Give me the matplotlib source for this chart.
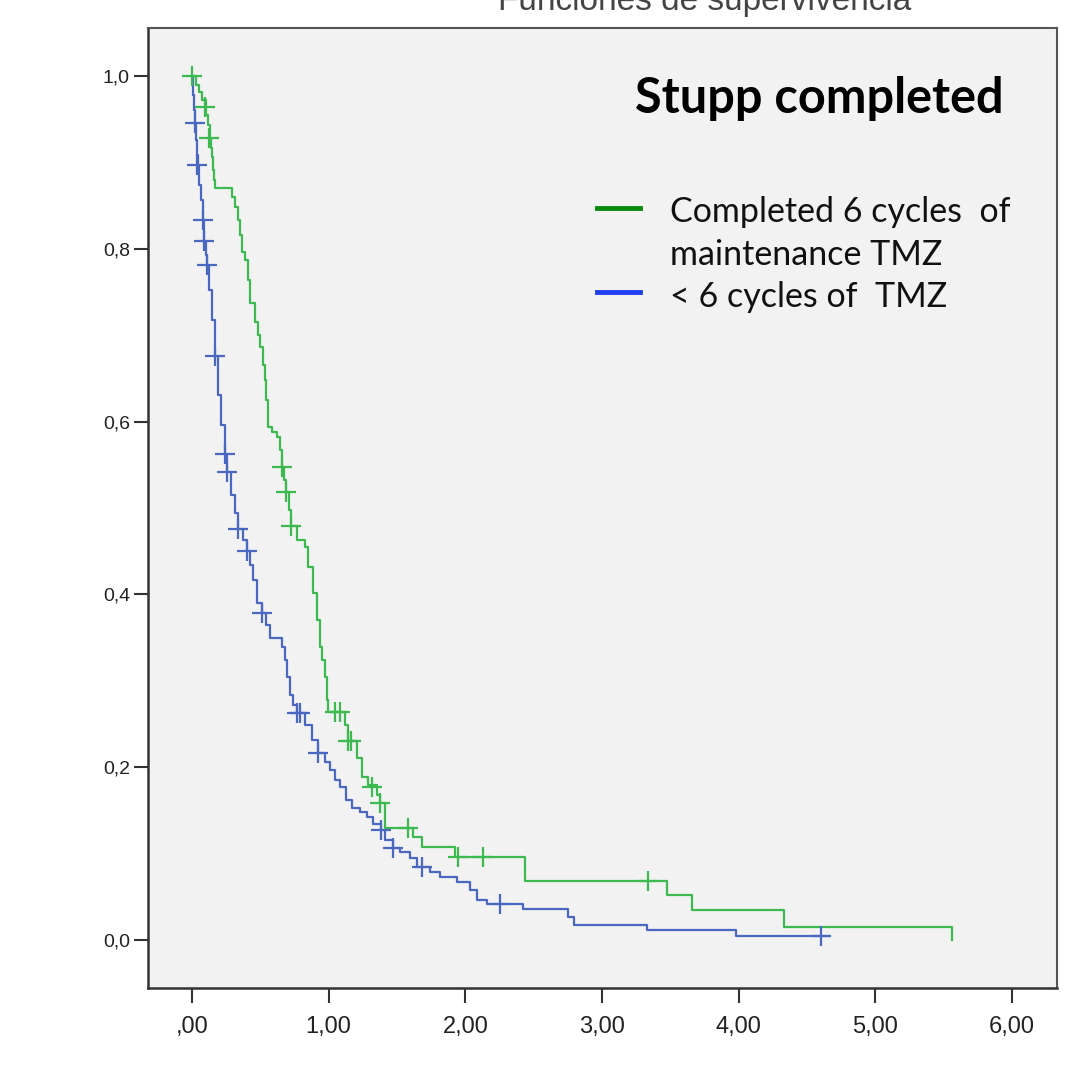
import matplotlib
matplotlib.use("Agg")
import matplotlib.pyplot as plt
from matplotlib.lines import Line2D

# ---------------- data ----------------
# Completed 6 cycles of maintenance TMZ (green): step times and survival after step
green_t = [0.000, 0.029, 0.051, 0.073, 0.102, 0.117, 0.132, 0.139, 0.146, 0.154, 0.161, 0.168,
           0.293, 0.315, 0.337, 0.351, 0.366, 0.388, 0.410, 0.424, 0.461, 0.483, 0.497, 0.519,
           0.534, 0.541, 0.556, 0.585, 0.622, 0.644, 0.658, 0.673, 0.688, 0.710, 0.724, 0.768,
           0.827, 0.849, 0.885, 0.914, 0.936, 0.951, 0.973, 0.988, 0.995, 1.119, 1.141, 1.207,
           1.244, 1.287, 1.353, 1.375, 1.412, 1.617, 1.683, 1.924, 2.436, 3.475, 3.658, 4.331,
           5.560]
green_s = [1.000, 0.990, 0.981, 0.972, 0.955, 0.943, 0.928, 0.917, 0.906, 0.891, 0.880, 0.870,
           0.860, 0.848, 0.833, 0.816, 0.796, 0.787, 0.764, 0.737, 0.715, 0.700, 0.686, 0.666,
           0.648, 0.625, 0.594, 0.588, 0.582, 0.567, 0.547, 0.532, 0.519, 0.498, 0.479, 0.463,
           0.455, 0.432, 0.402, 0.370, 0.339, 0.324, 0.304, 0.278, 0.264, 0.249, 0.230, 0.211,
           0.189, 0.179, 0.168, 0.159, 0.130, 0.119, 0.108, 0.096, 0.068, 0.052, 0.035, 0.015,
           0.000]
green_cens_t = [0.000, 0.095, 0.125, 0.658, 0.688, 0.724, 1.046, 1.083, 1.141, 1.160, 1.317,
                1.375, 1.580, 1.946, 2.129, 3.336]
green_cens_s = [1.000, 0.964, 0.928, 0.547, 0.519, 0.479, 0.264, 0.264, 0.230, 0.230, 0.177,
                0.159, 0.130, 0.096, 0.096, 0.068]

# < 6 cycles of TMZ (blue)
blue_t = [0.000, 0.007, 0.015, 0.022, 0.029, 0.037, 0.044, 0.051, 0.066, 0.080, 0.088, 0.102,
          0.110, 0.124, 0.146, 0.168, 0.190, 0.212, 0.241, 0.256, 0.285, 0.315, 0.337, 0.373,
          0.402, 0.424, 0.446, 0.475, 0.512, 0.541, 0.571, 0.658, 0.680, 0.695, 0.717, 0.739,
          0.768, 0.827, 0.878, 0.922, 0.973, 1.010, 1.046, 1.083, 1.127, 1.170, 1.229, 1.280,
          1.324, 1.383, 1.412, 1.470, 1.522, 1.595, 1.646, 1.741, 1.814, 1.939, 2.034, 2.085,
          2.158, 2.421, 2.751, 2.794, 3.328, 3.979, 4.660]
blue_s = [1.000, 0.978, 0.961, 0.946, 0.926, 0.909, 0.897, 0.874, 0.856, 0.833, 0.809, 0.793,
          0.781, 0.752, 0.718, 0.676, 0.631, 0.596, 0.562, 0.542, 0.515, 0.494, 0.476, 0.463,
          0.450, 0.434, 0.417, 0.390, 0.378, 0.365, 0.350, 0.339, 0.324, 0.304, 0.284, 0.272,
          0.263, 0.249, 0.231, 0.216, 0.206, 0.197, 0.185, 0.177, 0.162, 0.153, 0.148, 0.142,
          0.134, 0.127, 0.116, 0.106, 0.102, 0.095, 0.084, 0.079, 0.073, 0.067, 0.058, 0.046,
          0.042, 0.036, 0.027, 0.017, 0.012, 0.005, 0.005]
blue_cens_t = [0.022, 0.037, 0.080, 0.088, 0.110, 0.168, 0.241, 0.256, 0.337, 0.402, 0.512,
               0.768, 0.790, 0.922, 1.383, 1.470, 1.683, 2.253, 4.601]
blue_cens_s = [0.946, 0.897, 0.833, 0.809, 0.781, 0.676, 0.562, 0.542, 0.476, 0.450, 0.378,
               0.263, 0.263, 0.216, 0.127, 0.106, 0.084, 0.042, 0.005]

x_ticks = [0, 1, 2, 3, 4, 5, 6]
x_labels = [",00", "1,00", "2,00", "3,00", "4,00", "5,00", "6,00"]
y_ticks = [0.0, 0.2, 0.4, 0.6, 0.8, 1.0]
y_labels = ["0,0", "0,2", "0,4", "0,6", "0,8", "1,0"]

title = "Funciones de supervivencia"
annot = "Stupp completed"
legend_green = ["Completed 6 cycles  of", "maintenance TMZ"]
legend_blue = "< 6 cycles of  TMZ"

# ---------------- styling ----------------
W, H = 1075, 1088
fig = plt.figure(figsize=(W / 100, H / 100), dpi=100)
fig.patch.set_facecolor("white")

left, right, top, bottom = 148, 1057, 28, 988
ax = fig.add_axes([left / W, 1 - bottom / H, (right - left) / W, (bottom - top) / H])
ax.set_facecolor("#f2f2f2")

GREEN = "#3dba4f"
BLUE = "#4a68c0"

ax.step(green_t, green_s, where="post", color=GREEN, lw=1.6, zorder=3)
ax.step(blue_t, blue_s, where="post", color=BLUE, lw=1.6, zorder=3)
ax.plot(green_cens_t, green_cens_s, ls="none", marker="+", ms=15, mew=1.6, color=GREEN, zorder=4)
ax.plot(blue_cens_t, blue_cens_s, ls="none", marker="+", ms=15, mew=1.6, color=BLUE, zorder=4)

x0px, x6px = 192, 1012
ppu = (x6px - x0px) / 6
ax.set_xlim((left - x0px) / ppu, (right - x0px) / ppu)
y0px, y1px = 940, 76
ppy = y0px - y1px
ax.set_ylim(-(bottom - y0px) / ppy, 1 + (y1px - top) / ppy)

ax.set_xticks(x_ticks)
ax.set_xticklabels(x_labels, family=["Liberation Sans Narrow", "Liberation Sans", "DejaVu Sans"],
                   fontsize=17, color="#222222")
ax.set_yticks(y_ticks)
ax.set_yticklabels(y_labels, family=["Liberation Sans", "DejaVu Sans"], fontsize=14, color="#222222")
ax.tick_params(axis="x", length=11, width=1.5, color="#333333", pad=9)
ax.tick_params(axis="y", length=10, width=1.5, color="#333333", pad=3)

for side in ["left", "bottom"]:
    ax.spines[side].set_color("#333333")
    ax.spines[side].set_linewidth(1.8)
for side in ["top", "right"]:
    ax.spines[side].set_color("#555555")
    ax.spines[side].set_linewidth(1.5)

# cut-off title at the very top
fig.text(705 / W, 1 - 10 / H, title, ha="center", va="baseline",
         family=["Liberation Sans", "DejaVu Sans"], fontsize=24, color="#444444")

# annotation
fig.text(635 / W, 1 - 113 / H, annot, ha="left", va="baseline",
         family=["Lato", "DejaVu Sans"], fontweight="bold", fontsize=35, color="black")

# legend (manual)
fig.add_artist(Line2D([597 / W, 640 / W], [1 - 208 / H, 1 - 208 / H], color="#0a8a0a", lw=3.5))
fig.add_artist(Line2D([597 / W, 640 / W], [1 - 292 / H, 1 - 292 / H], color="#1f3ff0", lw=3.5))
lfont = dict(family=["Lato", "DejaVu Sans"], fontsize=24.5, color="#111111", ha="left", va="center")
fig.text(670 / W, 1 - 212 / H, legend_green[0], **lfont)
fig.text(670 / W, 1 - 255 / H, legend_green[1], **lfont)
fig.text(670 / W, 1 - 297 / H, legend_blue, **lfont)

fig.savefig("out.png", dpi=100)
